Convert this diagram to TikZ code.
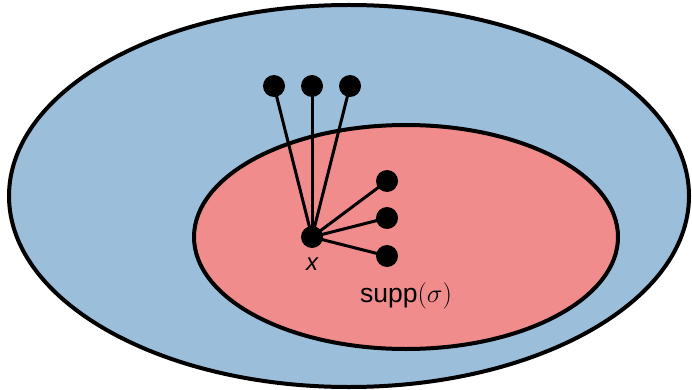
\documentclass[tikz,border=0pt]{standalone}
\usepackage{fix-cm}
\usepackage{fontspec}
\setmainfont{Liberation Sans}
\begin{document}
\begin{tikzpicture}[x=1pt,y=-1pt,
  region/.style={draw=black,line width=4pt},
  vertex/.style={circle,fill=black,inner sep=0pt,minimum size=22pt},
  edge/.style={line width=3pt},
  lbl/.style={font=\fontsize{24}{28}\selectfont}]
\useasboundingbox (0,0) rectangle (692,390);
\definecolor{outerblue}{HTML}{9BBEDB}
\definecolor{innerred}{HTML}{F08C8C}
% outer and inner regions
\filldraw[region,fill=outerblue] (349,196) ellipse [x radius=340,y radius=191];
\filldraw[region,fill=innerred] (406,237) ellipse [x radius=212,y radius=112];
% vertices
\node[vertex] (x) at (312,237) {};
\node[vertex] (a) at (274,86) {};
\node[vertex] (b) at (312,86) {};
\node[vertex] (c) at (350,86) {};
\node[vertex] (d) at (387,181) {};
\node[vertex] (e) at (387,218) {};
\node[vertex] (f) at (387,256) {};
% edges from x
\foreach \t in {a,b,c,d,e,f} \draw[edge] (x.center) -- (\t.center);
% labels
\node[lbl] (xl) at (312,264) {\itshape x};
\node[lbl,font=\fontsize{26.5}{32}\selectfont] (supp) at (406,296) {supp$(\sigma)$};
\end{tikzpicture}
\end{document}
